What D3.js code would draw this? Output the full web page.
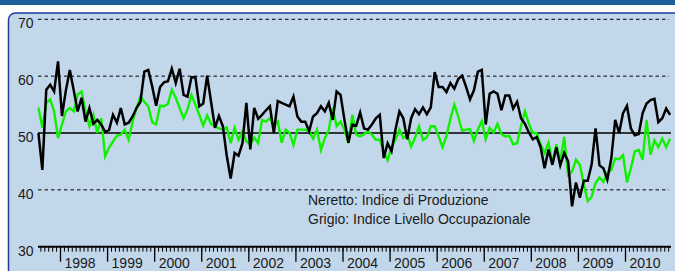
<!DOCTYPE html>
<html>
<head>
<meta charset="utf-8">
<script src="https://cdn.jsdelivr.net/npm/d3@7"></script>
<style>
  html, body { margin: 0; padding: 0; background: #ffffff; }
  svg { display: block; font-family: "Liberation Sans", Arial, sans-serif; }
</style>
</head>
<body>
<svg width="675" height="271"></svg>
<script>
// monthly series, from Jul 1997 to Dec 2010
const startOffset = -6 // Jul 1997, months counted from Jan 1998

const produzione = [
  50, 43.5, 57.6, 58.5, 57.3, 62.6,
  53, 57.5, 61.1, 57.5, 53.8, 56.2, 52, 54.4, 51.6, 52.3, 51.5, 50.2,
  50.5, 53.2, 51.8, 54.4, 51.5, 51.8, 52.9, 54.4, 55.5, 60.8, 61.1, 58.2,
  54.8, 58.1, 58.9, 59.1, 61.3, 58.8, 61.3, 56.7, 56.4, 59.8, 59.8, 54.7,
  55.2, 60.1, 55.5, 50.9, 53, 51.2, 46, 42, 46.5, 46, 48.2, 55.3,
  47.1, 54.4, 52.5, 53.2, 54, 54.7, 50, 55.6, 55.3, 55, 54.7, 56.4,
  52.9, 52, 52, 50.3, 52.9, 53.5, 54.7, 53.8, 55.3, 52.3, 57.3, 56.7,
  52.3, 48.3, 51.5, 51.3, 53.6, 50.8, 50.6, 51.5, 52.6, 53.2, 45.6, 48.2,
  46.8, 50.6, 53.8, 52.6, 48.9, 52.6, 54.2, 53.3, 54.5, 53.3, 54.5, 60.7,
  58.1, 58.1, 57.2, 58.8, 57.8, 59.5, 60.1, 58.1, 55.9, 57.5, 60.8, 61.1,
  51.5, 56.9, 57.3, 56.9, 54, 56.6, 56.6, 54.3, 55.5, 52.6, 51.6, 50.1,
  48.9, 49.3, 47.5, 43.8, 47.1, 44.4, 47.5, 44.3, 46.5, 45, 37.1, 41.3,
  38.6, 41.6, 41.6, 44.5, 50.8, 44.3, 43.8, 41.8, 45.5, 52.3, 50, 53.5,
  54.8, 50.8, 49.6, 49.8, 53.5, 55.2, 55.8, 56, 51.9, 52.6, 54.3, 53.2
]

const occupazione = [
  54.5, 50.9, 55.3, 55.9, 53.8, 49.1,
  51.5, 53.8, 54.4, 53.8, 56.8, 57.3, 53.8, 51.2, 53.2, 50, 52.6, 45.9,
  47.4, 48.5, 49.5, 49.7, 50.6, 48.8, 52, 54.4, 56.4, 55.5, 54.7, 51.9,
  51.5, 54.8, 54.7, 55.1, 57.6, 56.2, 54.4, 52.6, 54.1, 56.7, 55, 53.2,
  51.3, 53.1, 51.6, 51.2, 50.8, 50.6, 51, 48.2, 50.9, 48.8, 50.3, 48.5,
  48, 49.2, 48.2, 52.3, 52, 52.6, 51.2, 52, 48.3, 50.6, 50, 47.9,
  50.6, 50.6, 50.6, 50.3, 49, 50.6, 47, 49.1, 50.5, 54.4, 51.2, 52,
  50.6, 48.2, 53.2, 49.7, 49.4, 49.8, 50.3, 49.7, 48.8, 48.8, 46.8, 45.2,
  47.6, 48.8, 50.6, 49.1, 49.7, 47.6, 49.2, 51.2, 48.8, 49.2, 51.2, 51.2,
  49.4, 47.5, 49.5, 52.5, 55, 52.9, 50.4, 50.6, 50.7, 48.6, 50.6, 52.1,
  48.9, 50.9, 50.1, 51.6, 49.8, 49.4, 49.5, 48, 48.2, 51.2, 53.8, 51.6,
  50, 50, 48, 46.5, 48.3, 44.7, 48, 45, 49.3, 42.6, 43.2, 45.3,
  44.4, 41, 38, 38.8, 41.2, 42.2, 41.4, 43, 43.5, 45.5, 45.4, 46.1,
  41.3, 43.8, 46.8, 47, 45.3, 52.3, 46.2, 48.7, 47.5, 49, 47.5, 49
]

const years = ["1998", "1999", "2000", "2001", "2002", "2003", "2004",
  "2005", "2006", "2007", "2008", "2009", "2010"]
const yTicks = [30, 40, 50, 60, 70]
const legendLines = ["Neretto: Indice di Produzione", "Grigio: Indice Livello Occupazionale"]

const svg = d3.select("svg")

// header band and panel
svg.append("rect").attr("x", 0).attr("y", 0).attr("width", 675).attr("height", 5)
  .attr("fill", "#1d5e9b")
svg.append("rect").attr("x", 8.5).attr("y", 13).attr("width", 700).attr("height", 300)
  .attr("rx", 7).attr("ry", 7)
  .attr("fill", "#c3d7ea").attr("stroke", "#1f3c9e").attr("stroke-width", 1.5)

const x = d3.scaleLinear().domain([0, 144]).range([60, 625])
const y = d3.scaleLinear().domain([30, 70]).range([246.7, 19.3])
const left = 38, right = 671

// gridlines
const grid = svg.append("g")
grid.selectAll("line")
  .data(yTicks.filter(v => v !== 30))
  .enter().append("line")
  .attr("x1", left).attr("x2", d => d === 50 ? right : 669)
  .attr("y1", d => y(d)).attr("y2", d => y(d))
  .attr("stroke", "#000")
  .attr("stroke-width", d => d === 50 ? 1.4 : 1)
  .attr("stroke-dasharray", d => d === 50 ? null : "3.5,3")

// y labels
svg.append("g").selectAll("text")
  .data(yTicks)
  .enter().append("text")
  .attr("x", 33.5).attr("y", d => y(d) + 9)
  .attr("text-anchor", "end")
  .attr("font-size", 14).attr("fill", "#1a1a1a")
  .text(d => d)

// x axis: monthly minor ticks, yearly major ticks
const months = d3.range(-5, 156)
const minorAxis = d3.axisBottom(x).tickValues(months).tickSize(5).tickSizeOuter(0).tickFormat("")
const gMinor = svg.append("g").attr("transform", `translate(0,${y(30)})`).call(minorAxis)
gMinor.select(".domain").remove()
gMinor.selectAll(".tick line").attr("stroke", "#000").attr("stroke-width", 1)

const majorAxis = d3.axisBottom(x).tickValues(years.map((d, i) => i * 12))
  .tickSize(15).tickSizeOuter(0).tickFormat("")
const gMajor = svg.append("g").attr("transform", `translate(0,${y(30)})`).call(majorAxis)
gMajor.select(".domain").remove()
gMajor.selectAll(".tick line").attr("stroke", "#000").attr("stroke-width", 1.3)

svg.append("line")
  .attr("x1", left).attr("x2", right).attr("y1", y(30)).attr("y2", y(30))
  .attr("stroke", "#000").attr("stroke-width", 2)

svg.append("g").selectAll("text")
  .data(years)
  .enter().append("text")
  .attr("x", (d, i) => x(i * 12) + 4.5)
  .attr("y", 267.5)
  .attr("font-size", 14).attr("fill", "#1a1a1a")
  .text(d => d)

// series
const line = d3.line()
  .x((d, i) => x(startOffset + i + 0.5))
  .y(d => y(d))
  .curve(d3.curveLinear)

svg.append("path").datum(occupazione)
  .attr("d", line)
  .attr("fill", "none").attr("stroke", "#11f000").attr("stroke-width", 2.4)

svg.append("path").datum(produzione)
  .attr("d", line)
  .attr("fill", "none").attr("stroke", "#000").attr("stroke-width", 2.5)

// legend
svg.append("g").selectAll("text")
  .data(legendLines)
  .enter().append("text")
  .attr("x", 308).attr("y", (d, i) => 205 + i * 19)
  .attr("font-size", 14).attr("fill", "#1a1a1a")
  .text(d => d)
</script>
</body>
</html>
